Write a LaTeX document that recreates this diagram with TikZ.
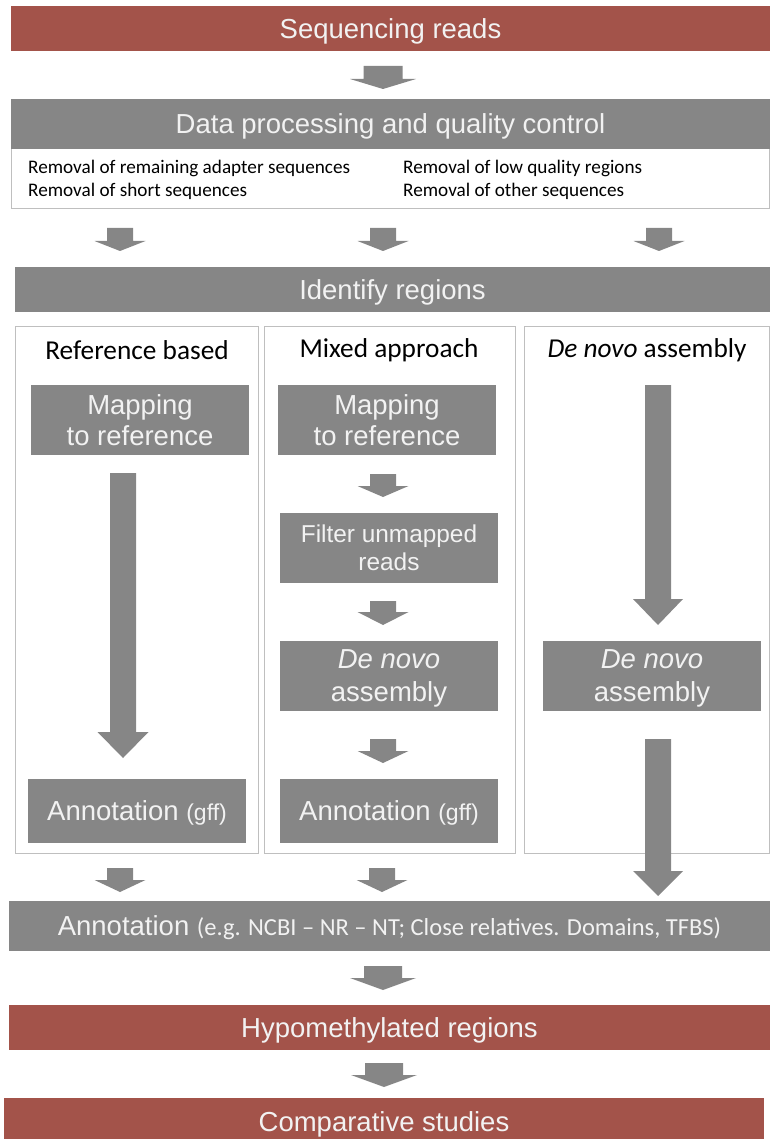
\documentclass[tikz,border=0pt]{standalone}
\usepackage{fontspec}
\setmainfont{Liberation Sans}
\newfontfamily\calfont{Carlito}
\definecolor{barred}{HTML}{A3534A}
\definecolor{boxgray}{HTML}{868686}
\definecolor{lighttext}{HTML}{F2F2F2}
\definecolor{framegray}{HTML}{BFBFBF}

\tikzset{
  bar/.style={fill=#1, text=lighttext, inner sep=0pt, align=center, text depth=0pt,
    font=\fontsize{27.5}{31}\selectfont},
  stepbox/.style={bar=boxgray, minimum width=218, minimum height=70},
  column/.style={draw=framegray, line width=1pt},
  colhead/.style={font=\calfont\fontsize{27.3}{30}\selectfont},
  removal/.style={anchor=west, inner sep=0pt, font=\calfont\fontsize{19.2}{22}\selectfont},
}

% block arrow: x, top, head start, tip, half shaft, half head
\newcommand{\flowarrow}[6]{%
  \fill[boxgray] (#1-#5,#2) -- (#1+#5,#2) -- (#1+#5,#3) -- (#1+#6,#3)
    -- (#1,#4) -- (#1-#6,#3) -- (#1-#5,#3) -- cycle;}

\begin{document}
\begin{tikzpicture}[x=1pt,y=-1pt]
  \clip (0,0) rectangle (770,1139);

  \node[bar=barred, minimum width=759, minimum height=45] (seqreads) at (390.5,28.5) {Sequencing reads};
  \flowarrow{383}{66}{79}{89}{19.5}{33}

  \draw[framegray, line width=1pt] (11,149) rectangle (769.5,209);
  \node[bar=boxgray, minimum width=759, minimum height=50] (dataproc) at (390.5,124) {Data processing and quality control};
  \node[removal] (rmadapter) at (28,168) {Removal of remaining adapter sequences};
  \node[removal] (rmshort) at (28,191) {Removal of short sequences};
  \node[removal] (rmlow) at (403,168) {Removal of low quality regions};
  \node[removal] (rmother) at (403,191) {Removal of other sequences};

  \flowarrow{120}{228}{241}{251}{13}{25.5}
  \flowarrow{383}{228}{241}{251}{13}{25.5}
  \flowarrow{659}{228}{241}{251}{13}{25.5}

  \node[bar=boxgray, minimum width=755, minimum height=45] (identify) at (392.5,289.5) {Identify regions};

  % three columns
  \draw[column] (15,326) rectangle (258,853);
  \draw[column] (264,326) rectangle (515,853);
  \draw[column] (524,326) rectangle (769.5,853);
  \node[colhead] (refhead) at (137,350) {Reference based};
  \node[colhead] (mixhead) at (389,350) {Mixed approach};
  \node[colhead] (novohead) at (647,350) {\textit{De novo} assembly};

  % reference based
  \node[stepbox] (refmap) at (140,420) {Mapping\\to reference};
  \flowarrow{123}{473}{732}{758}{13}{25.5}
  \node[stepbox, minimum height=64] (refannot) at (137,811) {Annotation {\fontsize{23}{23}\selectfont(gff)}};

  % mixed approach
  \node[stepbox] (mixmap) at (387,420) {Mapping\\to reference};
  \flowarrow{383}{474}{486}{497}{13}{25.5}
  \node[stepbox, font=\fontsize{24.4}{28}\selectfont] (mixfilter) at (389,548) {Filter unmapped\\reads};
  \flowarrow{383}{601}{612}{625}{13}{25.5}
  \node[stepbox, font=\fontsize{27.5}{33}\selectfont] (mixnovo) at (389,676) {\textit{De novo}\\assembly};
  \flowarrow{383}{739}{751}{763}{13}{25.5}
  \node[stepbox, minimum height=64] (mixannot) at (389,811) {Annotation {\fontsize{23}{23}\selectfont(gff)}};

  % de novo assembly
  \flowarrow{658}{385}{599}{625}{13}{25}
  \node[stepbox, font=\fontsize{27.5}{33}\selectfont] (novonovo) at (652,676) {\textit{De novo}\\assembly};
  \flowarrow{658}{739}{871}{896}{13}{25}

  \flowarrow{120}{868}{880}{892}{13}{25.5}
  \flowarrow{382}{868}{880}{892}{13}{25.5}

  \node[bar=boxgray, minimum width=761, minimum height=50] (annot) at (389.5,926)
    {Annotation {\calfont\fontsize{24.5}{28}\selectfont (e.g. NCBI – NR – NT; Close relatives. Domains, TFBS)}};
  \flowarrow{383}{966}{978}{990}{19}{33}
  \node[bar=barred, minimum width=761, minimum height=45] (hypo) at (389.5,1027.5) {Hypomethylated regions};
  \flowarrow{384}{1063}{1075}{1087}{19}{33}
  \node[bar=barred, minimum width=760, minimum height=48] (compare) at (384,1122) {Comparative studies};
\end{tikzpicture}
\end{document}
